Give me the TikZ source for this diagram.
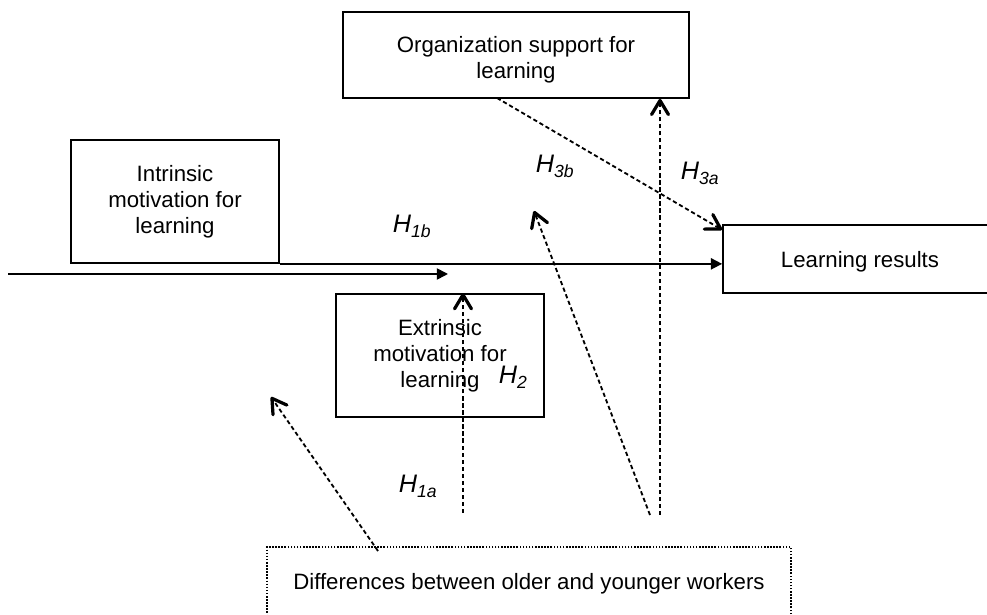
\documentclass[tikz,border=0pt]{standalone}
\usepackage{fontspec}
\setmainfont{Liberation Sans}
\usetikzlibrary{arrows.meta}
\newcommand{\hyp}[1]{\textit{H}\raisebox{-3pt}{\fontsize{12.5}{14}\selectfont\textit{#1}}}
\begin{document}
\begin{tikzpicture}[x=0.025cm,y=-0.025cm,line width=1.2pt,line join=miter,
	box/.style={draw,rectangle,align=center,inner sep=2pt,font=\fontsize{15.8}{18.4}\selectfont},
	dasharrow/.style={line width=1.3pt,dash pattern=on 3pt off 2pt,-{Straight Barb[length=10pt,width=12pt,line width=2.3pt,round]}},
	fullarrow/.style={-{Triangle[length=8pt,width=8pt]}},
	hlabel/.style={anchor=base west,inner sep=0pt,font=\fontsize{18}{20}\selectfont}]
	\useasboundingbox (0,0) rectangle (987,615);
	%boxes
	\node[box,minimum width=8.65cm,minimum height=2.15cm,label={[box,draw=none,yshift=-3.5pt]center:Organization support for\\learning}] (org) at (516,55) {};
	\node[box,minimum width=5.2cm,minimum height=3.075cm] (intr) at (175,201.5) {Intrinsic\\motivation for\\learning};
	\node[box,minimum width=5.2cm,minimum height=3.075cm] (extr) at (440,355.5) {Extrinsic\\motivation for\\learning};
	\node[box,minimum width=6.85cm,minimum height=1.7cm,text depth=0pt] (lr) at (860,259) {Learning results};
	\node[box,minimum width=13.1cm,minimum height=1.725cm,text depth=0pt,dash pattern=on 1.1pt off 1.1pt,line width=1.5pt] (diff) at (529,581.5) {Differences between older and younger workers};
	%free ends
	\coordinate (in1) at (8,274);
	\coordinate (in2) at (448,274);
	\coordinate (o1) at (497,98);
	\coordinate (a1) at (463,513);
	\coordinate (a2) at (650,515);
	\coordinate (a3) at (660,515);
	\coordinate (t2) at (534,211);
	\coordinate (d1) at (378,551);
	\coordinate (t4) at (271,397);
	%arrows
	\draw[fullarrow] (intr.south east)--(intr.south east -| lr.west) ; %intr-lr
	\draw[fullarrow] (in1)--(in2) ;
	\draw[dasharrow] (o1)--([yshift=-4pt]lr.north west) ; %org-lr
	\draw[dasharrow] (a3)--(a3 |- org.south) ; %H3a
	\draw[dasharrow] (a2)--(t2) ; %H3b
	\draw[dasharrow] (a1)--(a1 |- extr.north) ; %H1a
	\draw[dasharrow] (d1)--(t4) ;
	%labels
	\foreach \Pos/\Sub/\Nom in {(392,233)/1b/h1b,(535,173)/3b/h3b,(680,180)/3a/h3a,(498,384)/2/h2,(398,493)/1a/h1a}
		\node[hlabel] (\Nom) at \Pos {\hyp{\Sub}} ;
\end{tikzpicture}
\end{document}
